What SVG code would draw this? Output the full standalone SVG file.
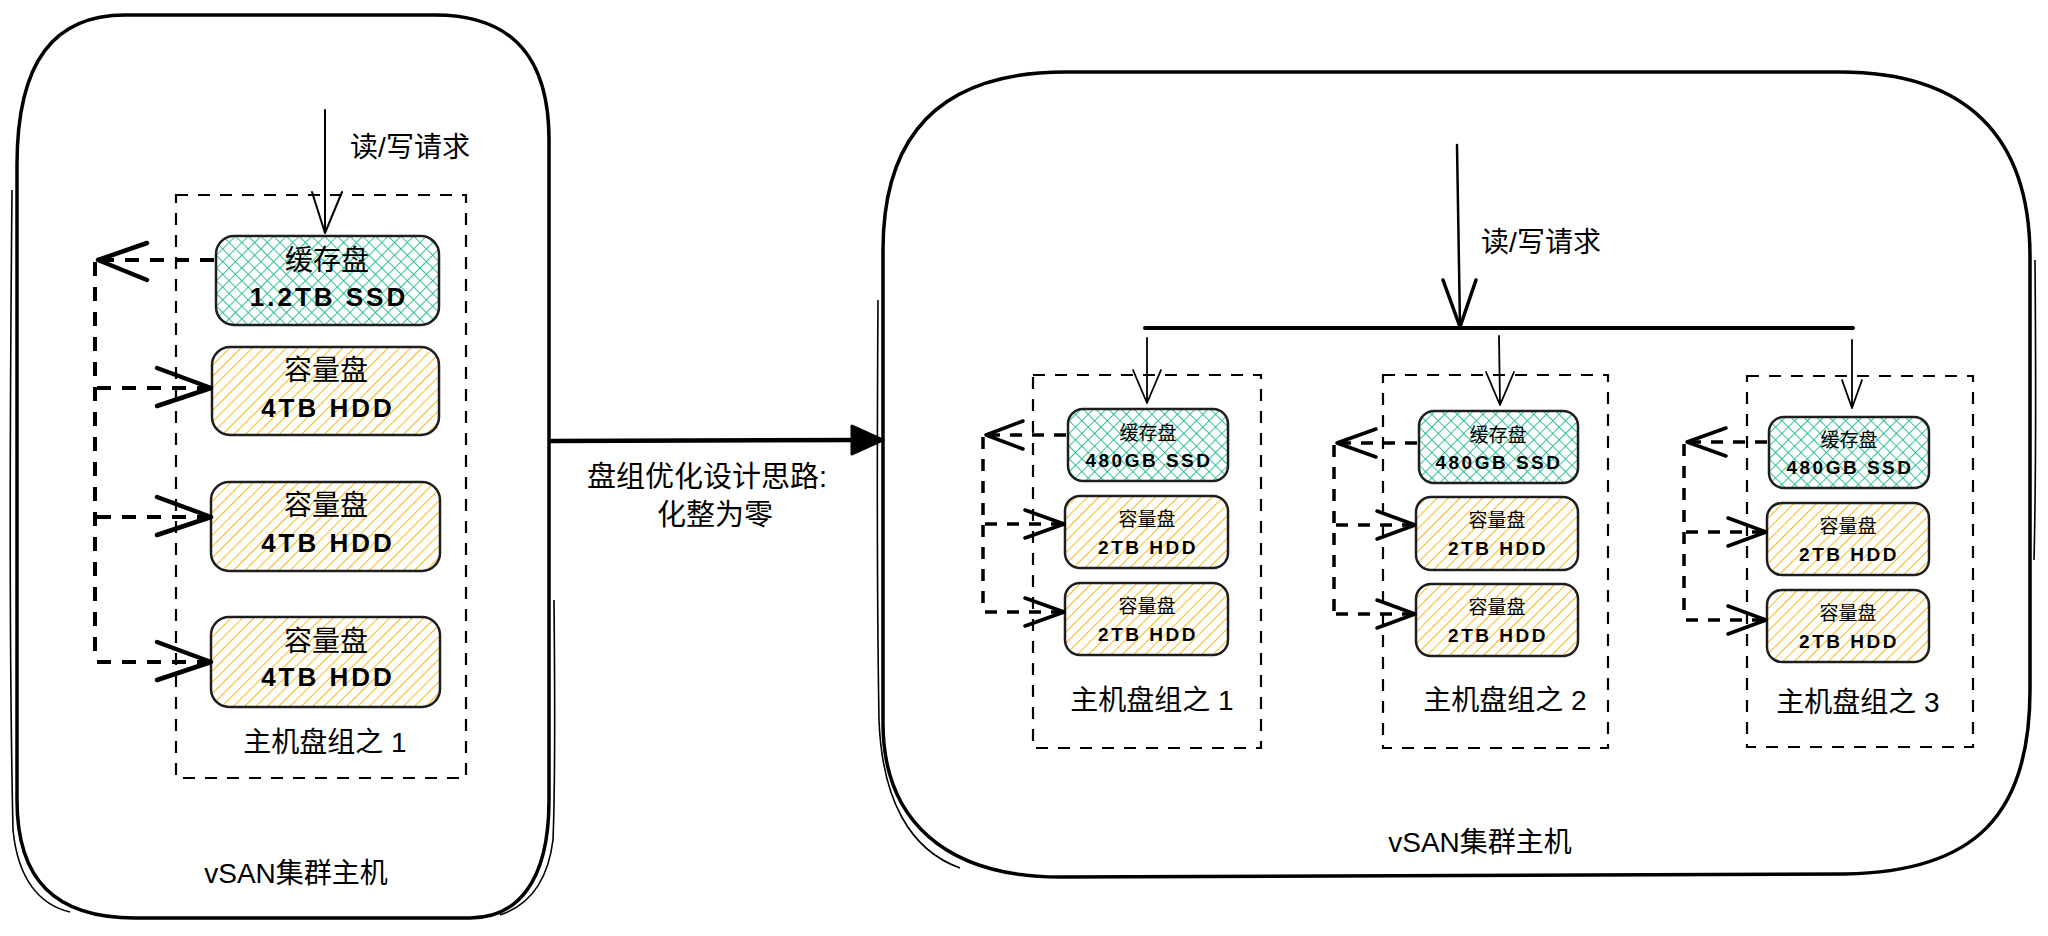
<svg xmlns="http://www.w3.org/2000/svg" width="2048" height="936" viewBox="0 0 2048 936">
<defs>
<pattern id="hatchY" patternUnits="userSpaceOnUse" width="8" height="8" patternTransform="rotate(45)">
<line x1="0" y1="0" x2="0" y2="8" stroke="#fab005" stroke-width="1.8"/>
</pattern>
<pattern id="hatchG" patternUnits="userSpaceOnUse" width="9" height="9" patternTransform="rotate(45)">
<line x1="0" y1="0" x2="0" y2="9" stroke="#12b886" stroke-width="1.7"/>
<line x1="0" y1="0" x2="9" y2="0" stroke="#12b886" stroke-width="1.7"/>
</pattern>
<style>
.host{fill:none;stroke:#000;stroke-width:3.5;stroke-linejoin:round}
.host2{fill:none;stroke:#000;stroke-width:1.6}
.grp{fill:none;stroke:#000;stroke-width:2.2;stroke-dasharray:12 10}
.ssd{fill:url(#hatchG);stroke:#1e1e1e;stroke-width:2.5}
.hdd{fill:url(#hatchY);stroke:#1e1e1e;stroke-width:2.5}
.t{font-family:"Liberation Sans","Noto Sans CJK SC",sans-serif;fill:#000;text-anchor:middle}
.big{font-size:28px}
.mid{font-size:28px}
.lat{font-size:26px;font-weight:bold;letter-spacing:3px}
.sm{font-size:19px}
.slat{font-size:19px;font-weight:bold;letter-spacing:2.5px}
.ln{fill:none;stroke:#000;stroke-linecap:round;stroke-linejoin:round}
.dl{fill:none;stroke:#000;stroke-width:4;stroke-dasharray:14 11;stroke-linecap:butt}
.dr{fill:none;stroke:#000;stroke-width:3.5;stroke-dasharray:12 10}
.hd{fill:none;stroke:#000;stroke-width:4.5;stroke-linecap:round;stroke-linejoin:round}
.hdr{fill:none;stroke:#000;stroke-width:3.5;stroke-linecap:round;stroke-linejoin:round}
</style>
</defs>
<rect width="2048" height="936" fill="#fff"/>

<!-- Left host -->
<g id="host-left">
<path class="host" d="M17,165 C17,60 55,15 125,15 L435,15 C515,15 549,60 549,140 L549,800 C549,885 515,918 470,918 L135,918 C55,918 17,880 17,800 Z"/>
<path class="host2" d="M12,190 C10,400 9,650 13,830 C18,880 40,905 70,912"/>
<path class="host2" d="M554,600 C555,700 555,790 553,840 C548,880 530,905 500,915"/>
<text class="t mid" x="296" y="883">vSAN集群主机</text>
</g>

<g id="group-left">
<rect class="grp" x="176" y="195" width="290" height="583"/>
<text class="t big" x="325" y="752">主机盘组之 1</text>
</g>

<g id="ssd-left">
<rect class="ssd" x="216" y="236" width="223" height="89" rx="18"/>
<text class="t mid" x="327" y="270">缓存盘</text>
<text class="t lat" x="329" y="306">1.2TB SSD</text>
</g>
<g id="hdd-left-1">
<rect class="hdd" x="212" y="347" width="227" height="88" rx="18"/>
<text class="t mid" x="326" y="380">容量盘</text>
<text class="t lat" x="328" y="417">4TB HDD</text>
</g>
<g id="hdd-left-2">
<rect class="hdd" x="211" y="482" width="229" height="89" rx="18"/>
<text class="t mid" x="326" y="515">容量盘</text>
<text class="t lat" x="328" y="552">4TB HDD</text>
</g>
<g id="hdd-left-3">
<rect class="hdd" x="211" y="617" width="229" height="90" rx="18"/>
<text class="t mid" x="326" y="651">容量盘</text>
<text class="t lat" x="328" y="686">4TB HDD</text>
</g>

<text class="t big" x="410" y="157">读/写请求</text>

<!-- Middle label -->
<text class="t" font-size="29" x="707" y="487">盘组优化设计思路:</text>
<text class="t" font-size="29" x="715" y="525">化整为零</text>

<!-- Right host -->
<g id="host-right">
<path class="host" d="M883,250 C883,130 945,72 1065,72 L1840,72 C1965,72 2030,135 2030,257 L2030,690 C2030,815 1975,872 1845,874 L1060,877 C945,877 883,820 883,723 Z"/>
<path class="host2" d="M878,300 C877,450 877,600 879,720 C882,800 910,850 960,868"/>
<path class="host2" d="M2035,260 C2036,380 2036,480 2034,560"/>
<text class="t mid" x="1480" y="852">vSAN集群主机</text>
</g>

<text class="t big" x="1541" y="252">读/写请求</text>

<g id="group-1">
<rect class="grp" x="1033" y="375" width="228" height="373"/>
<text class="t big" x="1152" y="710">主机盘组之 1</text>
</g>
<g id="ssd-1">
<rect class="ssd" x="1068" y="409" width="160" height="72" rx="15"/>
<text class="t sm" x="1148" y="440">缓存盘</text>
<text class="t slat" x="1149" y="467">480GB SSD</text>
</g>
<g id="hdd-1a">
<rect class="hdd" x="1065" y="496" width="163" height="72" rx="15"/>
<text class="t sm" x="1147" y="526">容量盘</text>
<text class="t slat" x="1148" y="554">2TB HDD</text>
</g>
<g id="hdd-1b">
<rect class="hdd" x="1065" y="583" width="163" height="72" rx="15"/>
<text class="t sm" x="1147" y="613">容量盘</text>
<text class="t slat" x="1148" y="641">2TB HDD</text>
</g>

<g id="group-2">
<rect class="grp" x="1383" y="375" width="225" height="373"/>
<text class="t big" x="1505" y="710">主机盘组之 2</text>
</g>
<g id="ssd-2">
<rect class="ssd" x="1419" y="411" width="159" height="72" rx="15"/>
<text class="t sm" x="1498" y="442">缓存盘</text>
<text class="t slat" x="1499" y="469">480GB SSD</text>
</g>
<g id="hdd-2a">
<rect class="hdd" x="1416" y="497" width="162" height="73" rx="15"/>
<text class="t sm" x="1497" y="527">容量盘</text>
<text class="t slat" x="1498" y="555">2TB HDD</text>
</g>
<g id="hdd-2b">
<rect class="hdd" x="1416" y="584" width="162" height="72" rx="15"/>
<text class="t sm" x="1497" y="614">容量盘</text>
<text class="t slat" x="1498" y="642">2TB HDD</text>
</g>

<g id="group-3">
<rect class="grp" x="1747" y="376" width="226" height="371"/>
<text class="t big" x="1858" y="712">主机盘组之 3</text>
</g>
<g id="ssd-3">
<rect class="ssd" x="1769" y="417" width="160" height="71" rx="15"/>
<text class="t sm" x="1849" y="447">缓存盘</text>
<text class="t slat" x="1850" y="474">480GB SSD</text>
</g>
<g id="hdd-3a">
<rect class="hdd" x="1767" y="503" width="162" height="72" rx="15"/>
<text class="t sm" x="1848" y="533">容量盘</text>
<text class="t slat" x="1849" y="561">2TB HDD</text>
</g>
<g id="hdd-3b">
<rect class="hdd" x="1767" y="590" width="162" height="72" rx="15"/>
<text class="t sm" x="1848" y="620">容量盘</text>
<text class="t slat" x="1849" y="648">2TB HDD</text>
</g>

<!-- Connectors -->
<g id="connectors">
<path class="ln" stroke-width="2" d="M325,110 L325,233 M312,192 L325,233 L342,192"/>
<path class="dl" d="M214,260 L97,260 M95,262 L95,662 M97,388 L205,388 M97,517 L205,517 M97,662 L205,662"/>
<path class="hd" d="M147,243 L98,260 L147,280"/>
<path class="hd" d="M157,368 L211,388 L157,406"/>
<path class="hd" d="M157,497 L211,517 L157,535"/>
<path class="hd" d="M157,642 L211,662 L157,680"/>
<path class="ln" stroke-width="4.5" d="M550,441 L860,440"/>
<path d="M852,426 L883,440 L852,454 Z" fill="#000" stroke="#000" stroke-width="3" stroke-linejoin="round"/>
<path class="ln" stroke-width="2.5" d="M1457,145 L1460,326"/>
<path class="ln" stroke-width="3.5" d="M1443,280 L1460,327 L1476,280"/>
<path class="ln" stroke-width="4" d="M1145,328 L1853,328"/>
<path class="ln" stroke-width="1.8" d="M1147,338 L1147,403 M1133,370 L1147,403 L1161,370"/>
<path class="ln" stroke-width="1.8" d="M1499,336 L1500,405 M1486,372 L1500,405 L1514,372"/>
<path class="ln" stroke-width="1.8" d="M1852,340 L1852,408 M1842,380 L1852,408 L1862,380"/>
<path class="dr" d="M1066,435 L986,435 M983,437 L983,612 M985,524 L1060,524 M985,612 L1060,612"/>
<path class="hdr" d="M1023,421 L986,435 L1023,449"/>
<path class="hdr" d="M1025,510 L1064,524 L1025,538"/>
<path class="hdr" d="M1025,598 L1064,612 L1025,626"/>
<path class="dr" d="M1417,443 L1337,443 M1334,445 L1334,614 M1336,525 L1411,525 M1336,614 L1411,614"/>
<path class="hdr" d="M1376,429 L1337,443 L1376,457"/>
<path class="hdr" d="M1377,511 L1415,525 L1377,539"/>
<path class="hdr" d="M1377,600 L1415,614 L1377,628"/>
<path class="dr" d="M1767,442 L1687,442 M1684,444 L1684,620 M1686,532 L1762,532 M1686,620 L1762,620"/>
<path class="hdr" d="M1726,428 L1687,442 L1726,456"/>
<path class="hdr" d="M1728,518 L1766,532 L1728,546"/>
<path class="hdr" d="M1728,606 L1766,620 L1728,634"/>
</g>
</svg>
